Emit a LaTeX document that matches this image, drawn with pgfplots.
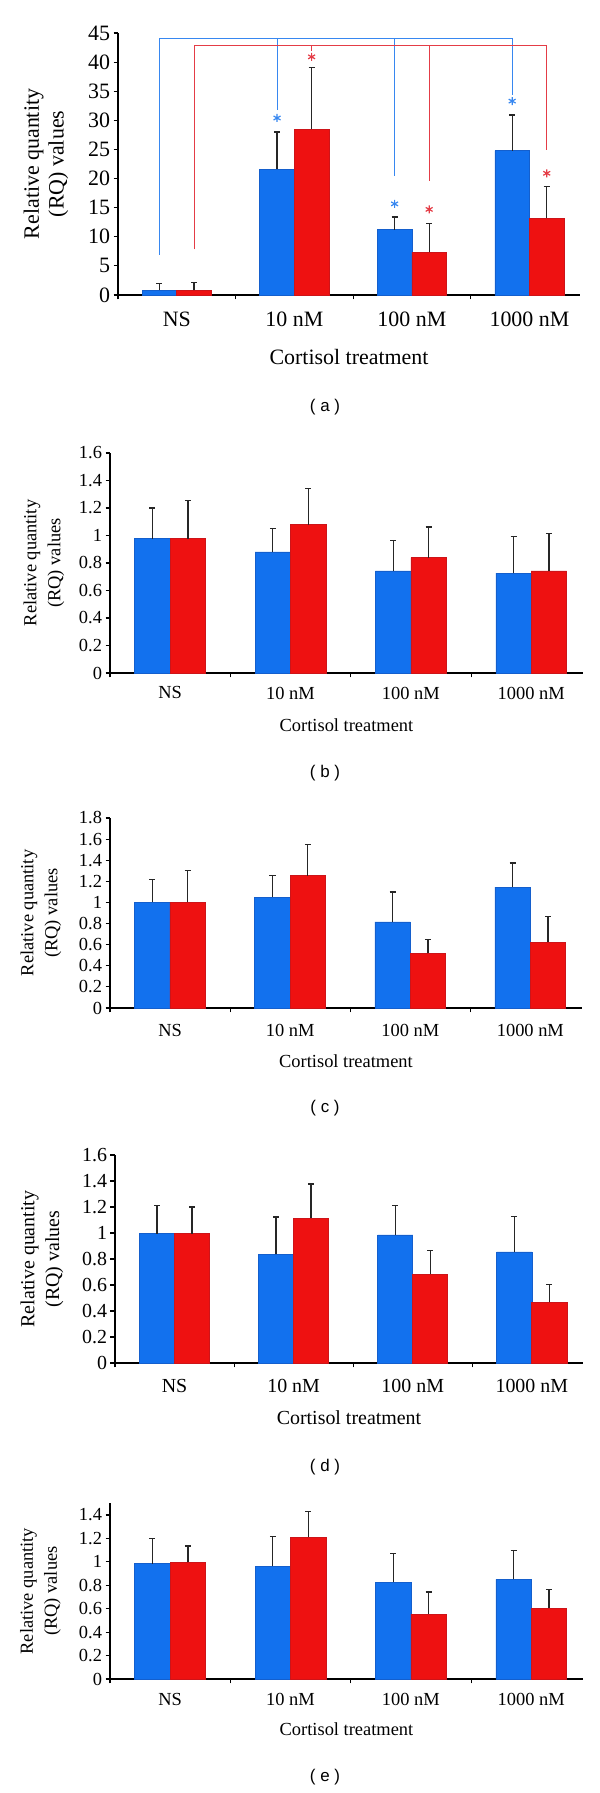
\documentclass[border=0pt]{standalone}
\usepackage{pgfplots}
\pgfplotsset{compat=1.18}
\usepackage{fontspec}
\setmainfont{Liberation Serif}
\newfontfamily\capfont{Liberation Sans}
\definecolor{cblue}{RGB}{18,113,238}
\definecolor{cred}{RGB}{238,17,17}
\definecolor{eblue}{RGB}{20,95,205}
\definecolor{ered}{RGB}{205,20,25}
\definecolor{lblue}{RGB}{55,135,240}
\definecolor{lred}{RGB}{228,60,70}
\pgfplotsset{
 rq/.style={
  scale only axis,
  axis x line*=bottom, axis y line*=left,
  axis line style={black, line width=1.2bp},
  xmin=-0.5, xmax=3.43, ymin=0,
  xtick={-0.5,0.5,1.5,2.5}, xticklabels={,,,},
  extra x ticks={0,1,2,3},
  extra x tick labels={NS,10 nM,100 nM,1000 nM},
  extra x tick style={major tick length=0pt},
  tick align=outside,
  major tick length=4.5bp,
  tick style={black, line width=1.1bp},
  /pgf/number format/assume math mode=true,
  yticklabel style={/pgf/number format/fixed},
  xlabel={Cortisol treatment},
  ylabel={Relative quantity\\(RQ) values},
  ylabel style={align=center, at={(axis description cs:0,0.5)}, anchor=center},
  xlabel style={at={(axis description cs:0.5,0)}, anchor=center},
  clip=false,
 },
 bl/.style={ybar, bar width=0.295, bar shift=0pt, fill=cblue, draw=eblue, line width=0.6bp,
   error bars/.cd, y dir=plus, y explicit,
   error bar style={black!85, line width=1.3bp},
   error mark options={rotate=90, black!85, line width=1.3bp, mark size=3bp}},
 rd/.style={ybar, bar width=0.295, bar shift=0pt, fill=cred, draw=ered, line width=0.6bp,
   error bars/.cd, y dir=plus, y explicit,
   error bar style={black!85, line width=1.3bp},
   error mark options={rotate=90, black!85, line width=1.3bp, mark size=3bp}},
}
\begin{document}
\begin{tikzpicture}
% ---------------- (a)
\begin{axis}[rq, at={(118bp,1498bp)}, anchor=south west, width=462bp, height=262bp,
  ymax=45, ytick={0,5,10,15,20,25,30,35,40,45},
  tick label style={font=\fontsize{22}{25}\selectfont},
  xticklabel style={anchor=center, yshift=-24bp},
  label style={font=\fontsize{22}{25}\selectfont},
  xlabel style={yshift=-62bp}, ylabel style={yshift=72bp}]
\addplot[bl] coordinates {(-0.147,0.85) +- (0,1.1) (0.853,21.6) +- (0,6.4) (1.853,11.2) +- (0,2.2) (2.853,24.8) +- (0,6.1)};
\addplot[rd] coordinates {(0.147,0.8) +- (0,1.3) (1.147,28.5) +- (0,10.6) (2.147,7.3) +- (0,5.0) (3.147,13.2) +- (0,5.4)};
\addplot[lblue, line width=1.1bp, mark=none] coordinates {(-0.147,6.9) (-0.147,44.1) (2.853,44.1) (2.853,34.3)};
\addplot[lblue, line width=1.1bp, mark=none] coordinates {(0.853,44.1) (0.853,31.8)};
\addplot[lblue, line width=1.1bp, mark=none] coordinates {(1.853,44.1) (1.853,20.4)};
\addplot[lred, line width=1.1bp, mark=none] coordinates {(0.147,7.85) (0.147,42.8) (3.147,42.8) (3.147,24.9)};
\addplot[lred, line width=1.1bp, mark=none] coordinates {(1.147,42.8) (1.147,41.9)};
\addplot[lred, line width=1.1bp, mark=none] coordinates {(2.147,42.8) (2.147,19.5)};
\addplot[only marks, mark=asterisk, mark size=4bp, lblue, line width=1.2bp] coordinates {(0.853,30.4) (1.853,15.65) (2.853,33.3)};
\addplot[only marks, mark=asterisk, mark size=4bp, lred, line width=1.2bp] coordinates {(1.147,40.9) (2.147,14.7) (3.147,20.9)};
\end{axis}
% ---------------- (b)
\begin{axis}[rq, at={(110bp,1120bp)}, anchor=south west, width=473bp, height=220bp,
  ymax=1.6, ytick={0,0.2,0.4,0.6,0.8,1,1.2,1.4,1.6},
  tick label style={font=\fontsize{18.5}{22}\selectfont},
  xticklabel style={anchor=center, yshift=-20bp},
  label style={font=\fontsize{18.5}{24}\selectfont},
  xlabel style={yshift=-52bp}, ylabel style={yshift=66bp}]
\addplot[bl] coordinates {(-0.147,0.977) +- (0,0.223) (0.853,0.88) +- (0,0.17) (1.853,0.742) +- (0,0.223) (2.853,0.727) +- (0,0.267)};
\addplot[rd] coordinates {(0.147,0.977) +- (0,0.279) (1.147,1.079) +- (0,0.261) (2.147,0.839) +- (0,0.223) (3.147,0.742) +- (0,0.271)};
\end{axis}
% ---------------- (c)
\begin{axis}[rq, at={(110bp,785bp)}, anchor=south west, width=472bp, height=190bp,
  ymax=1.8, ytick={0,0.2,0.4,0.6,0.8,1,1.2,1.4,1.6,1.8},
  tick label style={font=\fontsize{18.5}{22}\selectfont},
  xticklabel style={anchor=center, yshift=-22bp},
  label style={font=\fontsize{18.5}{24}\selectfont},
  xlabel style={yshift=-53bp}, ylabel style={yshift=69bp}]
\addplot[bl] coordinates {(-0.147,1.004) +- (0,0.212) (0.853,1.051) +- (0,0.203) (1.853,0.815) +- (0,0.285) (2.853,1.146) +- (0,0.228)};
\addplot[rd] coordinates {(0.147,1.0) +- (0,0.30) (1.147,1.254) +- (0,0.296) (2.147,0.518) +- (0,0.132) (3.147,0.625) +- (0,0.245)};
\end{axis}
% ---------------- (d)
\begin{axis}[rq, at={(115bp,430bp)}, anchor=south west, width=468bp, height=208bp,
  ymax=1.6, ytick={0,0.2,0.4,0.6,0.8,1,1.2,1.4,1.6},
  tick label style={font=\fontsize{20}{24}\selectfont},
  xticklabel style={anchor=center, yshift=-23bp},
  label style={font=\fontsize{20}{25}\selectfont},
  xlabel style={yshift=-55bp}, ylabel style={yshift=73bp}]
\addplot[bl] coordinates {(-0.147,0.996) +- (0,0.214) (0.853,0.835) +- (0,0.287) (1.853,0.986) +- (0,0.224) (2.853,0.855) +- (0,0.27)};
\addplot[rd] coordinates {(0.147,0.994) +- (0,0.206) (1.147,1.115) +- (0,0.261) (2.147,0.683) +- (0,0.18) (3.147,0.467) +- (0,0.139)};
\end{axis}
% ---------------- (e)
\begin{axis}[rq, at={(110bp,114bp)}, anchor=south west, width=473bp, height=175.7bp,
  ymax=1.5, ytick={0,0.2,0.4,0.6,0.8,1,1.2,1.4},
  tick label style={font=\fontsize{18.5}{22}\selectfont},
  xticklabel style={anchor=center, yshift=-20bp},
  label style={font=\fontsize{18.5}{24}\selectfont},
  xlabel style={yshift=-50bp}, ylabel style={yshift=69.5bp}]
\addplot[bl] coordinates {(-0.147,0.984) +- (0,0.216) (0.853,0.964) +- (0,0.253) (1.853,0.827) +- (0,0.242) (2.853,0.85) +- (0,0.25)};
\addplot[rd] coordinates {(0.147,0.995) +- (0,0.14) (1.147,1.212) +- (0,0.217) (2.147,0.553) +- (0,0.191) (3.147,0.605) +- (0,0.162)};
\end{axis}
% captions
\node[font=\capfont\fontsize{17}{20}\selectfont] at (325bp,1386bp) {( a )};
\node[font=\capfont\fontsize{17}{20}\selectfont] at (325bp,1020bp) {( b )};
\node[font=\capfont\fontsize{17}{20}\selectfont] at (325bp,685bp) {( c )};
\node[font=\capfont\fontsize{17}{20}\selectfont] at (325bp,326bp) {( d )};
\node[font=\capfont\fontsize{17}{20}\selectfont] at (325bp,16bp) {( e )};
\pgfresetboundingbox
\path[use as bounding box] (0bp,0bp) rectangle (600bp,1793bp);
\end{tikzpicture}
\end{document}
